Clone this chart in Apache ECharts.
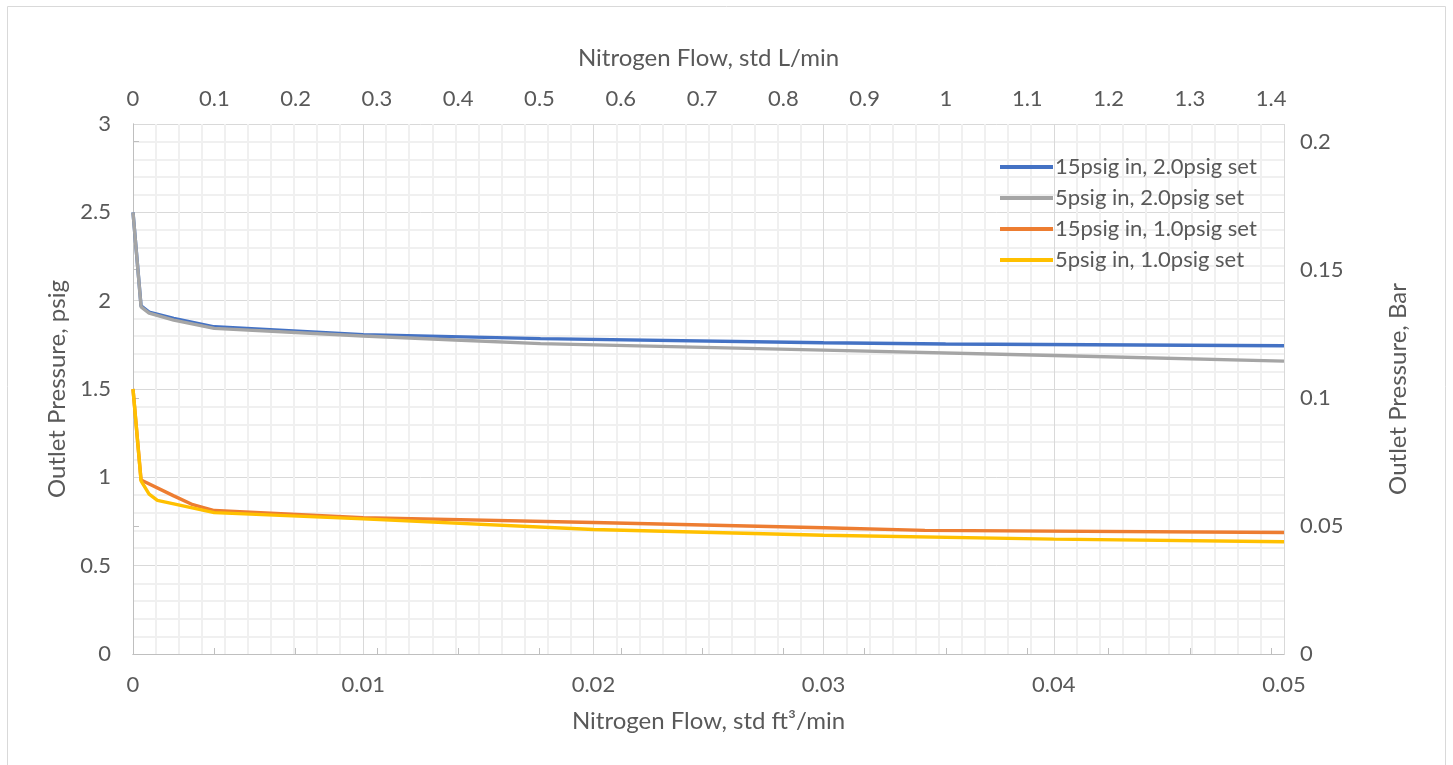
<!DOCTYPE html>
<html><head><meta charset="utf-8">
<script src="https://cdn.jsdelivr.net/npm/echarts@6/dist/echarts.min.js"></script>
<style>html,body{margin:0;padding:0;background:#fff}#c{width:1453px;height:765px}</style>
</head><body><div id="c"></div>
<script>
// Flow in std ft³/min, outlet pressure in psig
const seriesNames = ['15psig in, 2.0psig set','5psig in, 2.0psig set','15psig in, 1.0psig set','5psig in, 1.0psig set'];
const blueData = [[0,2.5],[0.00035,1.97],[0.0007,1.935],[0.00177,1.90],[0.00353,1.852],[0.01,1.808],[0.0177,1.785],[0.03,1.762],[0.0353,1.755],[0.05,1.745]];
const grayData = [[0,2.5],[0.00035,1.965],[0.0007,1.93],[0.00177,1.89],[0.00353,1.843],[0.01,1.80],[0.014,1.777],[0.0177,1.757],[0.03,1.72],[0.04,1.69],[0.05,1.658]];
const orangeData = [[0,1.5],[0.00035,0.985],[0.00177,0.895],[0.0026,0.845],[0.00353,0.812],[0.01,0.772],[0.02,0.744],[0.03,0.715],[0.0344,0.70],[0.05,0.688]];
const yellowData = [[0,1.5],[0.00035,0.98],[0.0007,0.905],[0.00106,0.87],[0.00177,0.85],[0.00353,0.80],[0.01,0.765],[0.02,0.705],[0.03,0.672],[0.04,0.65],[0.05,0.635]];
const colors = ['#4472C4','#A5A5A5','#ED7D31','#FFC000'];
const xMaxFt3 = 0.05;
const xMaxLmin = 1.41584;   // 0.05 ft³/min in L/min
const yMaxPsig = 3;
const yMaxBar = 0.206843;   // 3 psig in bar

const FONT = 'Lato';
const TXT = '#595959';
const ch = echarts.init(document.getElementById('c'));
const lab = (m)=>({color:TXT,fontFamily:FONT,fontSize:22,margin:m});
const nameStyle = {color:TXT,fontFamily:FONT,fontSize:24};
ch.setOption({
  animation:false,
  graphic:[{type:'rect',shape:{x:7.5,y:6.5,width:1438,height:780},style:{fill:'none',stroke:'#d9d9d9',lineWidth:1},silent:true}],
  grid:{left:133,right:169,top:124,bottom:111},
  legend:{
    orient:'vertical',left:1000,top:155,padding:0,itemWidth:53,itemHeight:4,itemGap:7,icon:'rect',
    textStyle:{color:TXT,fontFamily:FONT,fontSize:22,lineHeight:24,padding:[0,0,0,-3]},
    data:seriesNames
  },
  xAxis:[
    {type:'value',position:'bottom',min:0,max:xMaxFt3,interval:0.01,
     name:'Nitrogen Flow, std ft³/min',nameLocation:'middle',nameGap:55,nameTextStyle:nameStyle,
     axisLine:{show:true,lineStyle:{color:'#bfbfbf',width:1}},axisTick:{show:false},
     axisLabel:lab(20),
     splitLine:{show:true,lineStyle:{color:'#d9d9d9',width:1}},
     minorTick:{show:false,splitNumber:10},
     minorSplitLine:{show:true,lineStyle:{color:'#f0f0f0',width:2}}},
    {type:'value',position:'top',min:0,max:xMaxLmin,interval:0.1,
     name:'Nitrogen Flow, std L/min',nameLocation:'middle',nameGap:54,nameTextStyle:nameStyle,
     axisLine:{show:true,lineStyle:{color:'#bfbfbf',width:1}},
     axisTick:{show:true,inside:false,length:6,lineStyle:{color:'#bfbfbf'}},
     axisLabel:Object.assign(lab(14),{showMaxLabel:false,formatter:v=>String(Math.round(v*10)/10)}),
     minorTick:{show:false},minorSplitLine:{show:false},
     splitLine:{show:false}}
  ],
  yAxis:[
    {type:'value',position:'left',min:0,max:yMaxPsig,interval:0.5,
     name:'Outlet Pressure, psig',nameLocation:'middle',nameGap:62,nameTextStyle:nameStyle,
     axisLine:{show:true,lineStyle:{color:'#bfbfbf',width:1}},axisTick:{show:false},
     axisLabel:lab(22),
     splitLine:{show:true,lineStyle:{color:'#d9d9d9',width:1}},
     minorTick:{show:false,splitNumber:5},
     minorSplitLine:{show:true,lineStyle:{color:'#f0f0f0',width:2}}},
    {type:'value',position:'right',min:0,max:yMaxBar,interval:0.05,
     name:'Outlet Pressure, Bar',nameLocation:'middle',nameGap:102,nameTextStyle:nameStyle,
     axisLine:{show:true,lineStyle:{color:'#bfbfbf',width:1}},
     axisTick:{show:true,inside:false,length:6,lineStyle:{color:'#bfbfbf'}},
     axisLabel:Object.assign(lab(16),{showMaxLabel:false,formatter:v=>String(Math.round(v*100)/100)}),
     minorTick:{show:false},minorSplitLine:{show:false},
     splitLine:{show:false}}
  ],
  series:[blueData,grayData,orangeData,yellowData].map((d,i)=>({
    name:seriesNames[i],type:'line',xAxisIndex:0,yAxisIndex:0,data:d,
    showSymbol:false,symbol:'none',smooth:false,
    lineStyle:{color:colors[i],width:3.4},itemStyle:{color:colors[i]}
  }))
});
</script></body></html>
